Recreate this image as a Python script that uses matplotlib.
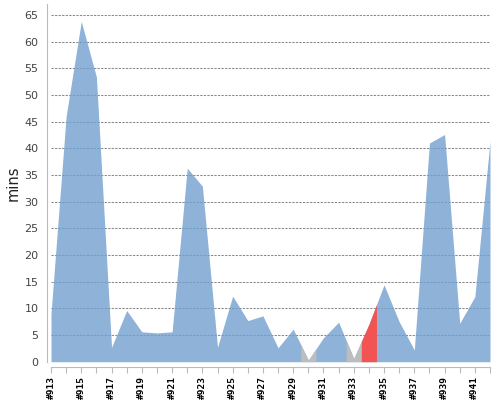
import matplotlib
matplotlib.use("Agg")
import matplotlib.pyplot as plt
import numpy as np

builds = list(range(913, 943))
minutes = [9.0, 46.0, 63.8, 53.4, 2.7, 9.6, 5.6, 5.4, 5.6, 36.3,
           32.9, 2.7, 12.3, 7.7, 8.6, 2.6, 6.1, 0.3, 4.5, 7.4,
           0.6, 7.0, 14.4, 7.5, 2.2, 41.0, 42.6, 7.2, 12.2, 41.3]
status = ["ok"] * 30
status[930 - 913] = "aborted"
status[933 - 913] = "aborted"
status[934 - 913] = "failed"
overlay_colors = {"aborted": "#BDBDBD", "failed": "#F25454"}
tick_labels = ["#%d" % b if (b - 913) % 2 == 0 else "" for b in builds]

fig = plt.figure(figsize=(5, 4), dpi=100)
ax = fig.add_axes([51 / 500, 1 - 361.7 / 400, (490 - 51) / 500, (361.7 - 4) / 400])

# base area (successful builds colour)
ax.fill_between(builds, minutes, 0, color="#729FCF", alpha=0.8, lw=0, zorder=2)

n = len(builds)
for i in range(n):
    if status[i] == "ok":
        continue
    xs = [builds[i]]
    ys = [minutes[i]]
    if i > 0:
        xs.insert(0, (builds[i - 1] + builds[i]) / 2)
        ys.insert(0, (minutes[i - 1] + minutes[i]) / 2)
    if i < n - 1:
        xs.append((builds[i] + builds[i + 1]) / 2)
        ys.append((minutes[i] + minutes[i + 1]) / 2)
    ax.fill_between(xs, ys, 0, color=overlay_colors[status[i]], lw=0, zorder=3)

ax.set_xlim(913, 942)
ax.set_ylim(0, 67.07)
ax.set_yticks(range(0, 66, 5))
ax.yaxis.grid(True, color="#8a8a8a", linestyle=(0, (2.2, 1.2)), linewidth=0.75, zorder=1)
ax.set_axisbelow(True)

ax.set_xticks(builds)
ax.set_xticklabels(tick_labels)

for s in ["top", "right"]:
    ax.spines[s].set_visible(False)
ax.spines["left"].set_position(("outward", 3))
ax.spines["bottom"].set_position(("outward", 4))
for s in ["left", "bottom"]:
    ax.spines[s].set_color("#bbbbbb")
ax.tick_params(axis="x", length=4, color="#bbbbbb", pad=2, labelrotation=90,
               labelsize=6.8, labelcolor="black")
for lbl in ax.get_xticklabels():
    lbl.set_family("DejaVu Sans Mono")
    lbl.set_fontweight("bold")
ax.tick_params(axis="y", length=0, pad=6, labelsize=8, labelcolor="#444444")
ax.set_ylabel("mins", fontsize=10.5, color="#222222", labelpad=3)

fig.savefig("out.png", dpi=100)
